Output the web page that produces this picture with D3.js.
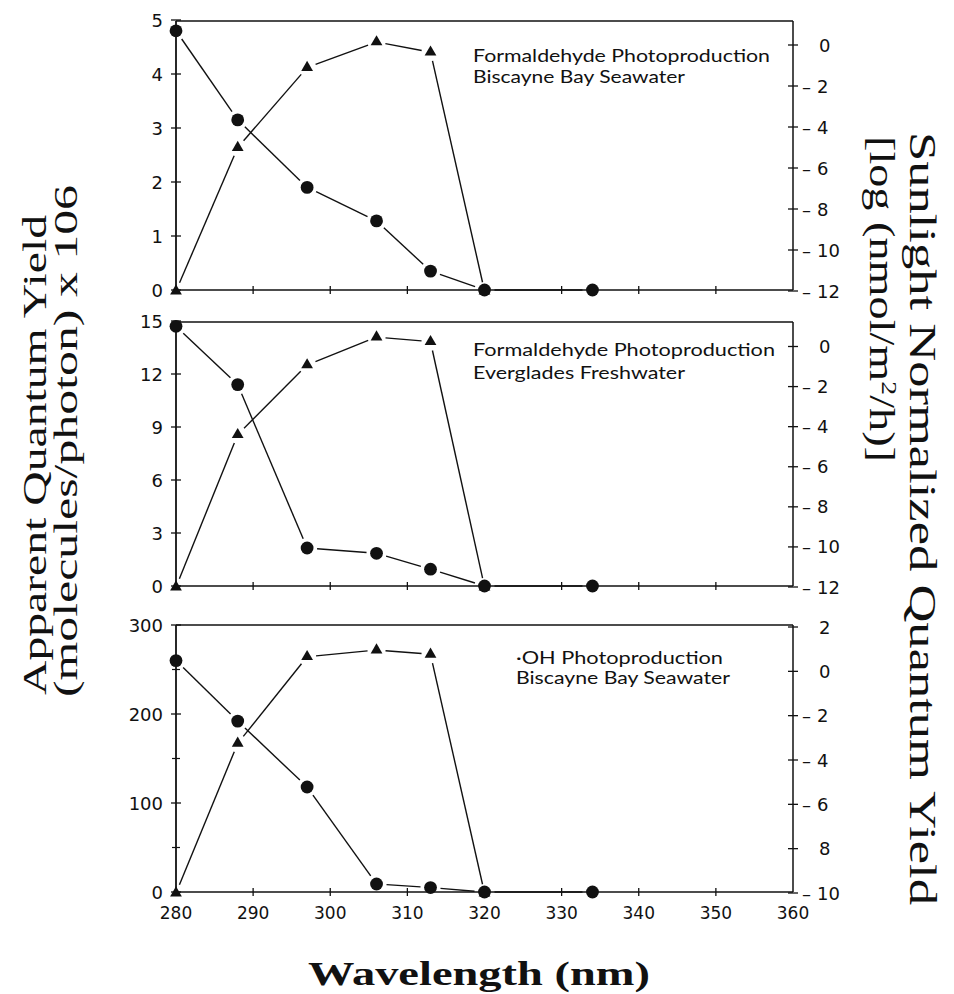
<!DOCTYPE html>
<html>
<head>
<meta charset="utf-8">
<script src="https://cdn.jsdelivr.net/npm/d3@7"></script>
<style>
  html, body { margin: 0; padding: 0; background: #fff; }
  svg { display: block; }
</style>
</head>
<body>
<svg id="chart" width="954" height="994"></svg>
<script>
// Wavelengths of the irradiation bands (nm)
const wavelengths = [280, 288, 297, 306, 313, 320, 334];

// Apparent quantum yields (circles, left axis)
const hchoBiscayneYield   = [4.8, 3.15, 1.9, 1.28, 0.35, 0, 0];
const hchoEvergladesYield = [14.7, 11.4, 2.15, 1.85, 0.95, 0, 0];
const ohBiscayneYield     = [260, 192, 118, 9, 5, 0, 0];

// Sunlight-normalized quantum yields, log scale (triangles, right axis), 280-320 nm
const hchoBiscayneSunlight   = [-12, -5.0, -1.1, 0.15, -0.35, -12];
const hchoEvergladesSunlight = [-12, -4.4, -0.92, 0.47, 0.24, -12];
const ohBiscayneSunlight     = [-10, -3.25, 0.66, 0.96, 0.77, -10];

// Tick values and labels
const xTicks = [280, 290, 300, 310, 320, 330, 340, 350, 360];
const leftTicksTop = [0, 1, 2, 3, 4, 5];
const leftTicksMid = [0, 3, 6, 9, 12, 15];
const leftTicksBot = [0, 100, 200, 300];
const leftMinorBot = [50, 150, 250];
const rightTicksTop = [0, -2, -4, -6, -8, -10, -12];
const rightTicksMid = [0, -2, -4, -6, -8, -10, -12];
const rightTicksBot = [2, 0, -2, -4, -6, -8, -10];
const rightLabelsBot = ["2", "0", "-2", "-4", "-6", "8", "-10"];

const panelTitles = [
  ["Formaldehyde Photoproduction", "Biscayne Bay Seawater"],
  ["Formaldehyde Photoproduction", "Everglades Freshwater"],
  ["\u00B7OH Photoproduction", "Biscayne Bay Seawater"]
];

const svg = d3.select("#chart");
const INK = "#111";
const tickFont = "'DejaVu Sans', sans-serif";
const noteFont = "Lato, 'Open Sans', sans-serif";
const titleFont = "'Liberation Serif', 'Times New Roman', serif";

const xLeft = 176, xRight = 793;
const x = d3.scaleLinear().domain([280, 360]).range([xLeft, xRight]);

const panels = [
  {
    top: 21, bottom: 290,
    yL: d3.scaleLinear().domain([0, 5]).range([290, 20]),
    yR: d3.scaleLinear().domain([-12, 0]).range([291, 45]),
    leftTicks: leftTicksTop, leftMinor: [],
    rightTicks: rightTicksTop, rightLabels: rightTicksTop.map(String),
    yields: hchoBiscayneYield, sun: hchoBiscayneSunlight,
    title: panelTitles[0], tx: 473, ty: 62, tw: [297, 212], dy: 21,
    xLabels: false
  },
  {
    top: 322, bottom: 586,
    yL: d3.scaleLinear().domain([0, 15]).range([586, 321]),
    yR: d3.scaleLinear().domain([-12, 0]).range([587, 346.5]),
    leftTicks: leftTicksMid, leftMinor: [],
    rightTicks: rightTicksMid, rightLabels: rightTicksMid.map(String),
    yields: hchoEvergladesYield, sun: hchoEvergladesSunlight,
    title: panelTitles[1], tx: 473, ty: 356, tw: [302, 212], dy: 23,
    xLabels: false
  },
  {
    top: 625, bottom: 892,
    yL: d3.scaleLinear().domain([0, 300]).range([892, 625]),
    yR: d3.scaleLinear().domain([-10, 2]).range([893, 627]),
    leftTicks: leftTicksBot, leftMinor: leftMinorBot,
    rightTicks: rightTicksBot, rightLabels: rightLabelsBot,
    yields: ohBiscayneYield, sun: ohBiscayneSunlight,
    title: panelTitles[2], tx: 516, ty: 664, tw: [207, 214], dy: 20,
    xLabels: true
  }
];

// Draw a connected series whose segments stop short of each marker
function gappedLine(g, pts, gap) {
  for (let i = 0; i < pts.length - 1; i++) {
    const [x0, y0] = pts[i], [x1, y1] = pts[i + 1];
    const dx = x1 - x0, dy = y1 - y0, d = Math.hypot(dx, dy);
    if (d <= 2 * gap) continue;
    const ux = dx / d, uy = dy / d;
    g.append("line")
      .attr("x1", x0 + ux * gap).attr("y1", y0 + uy * gap)
      .attr("x2", x1 - ux * gap).attr("y2", y1 - uy * gap)
      .attr("stroke", INK).attr("stroke-width", 1.4);
  }
}

panels.forEach(p => {
  const g = svg.append("g");

  // Frame
  g.append("line").attr("x1", xLeft).attr("x2", xRight).attr("y1", p.top).attr("y2", p.top)
    .attr("stroke", INK).attr("stroke-width", 1.5);
  g.append("line").attr("x1", xLeft).attr("x2", xRight).attr("y1", p.bottom).attr("y2", p.bottom)
    .attr("stroke", INK).attr("stroke-width", 1.5);
  g.append("line").attr("x1", xLeft).attr("x2", xLeft).attr("y1", p.top).attr("y2", p.bottom)
    .attr("stroke", INK).attr("stroke-width", 1.8);
  g.append("line").attr("x1", xRight).attr("x2", xRight).attr("y1", p.top).attr("y2", p.bottom)
    .attr("stroke", INK).attr("stroke-width", 1.5);

  // Bottom ticks (crossing)
  xTicks.filter(v => v > 280 && v < 360).forEach(v => {
    g.append("line").attr("x1", x(v)).attr("x2", x(v))
      .attr("y1", p.bottom - 4).attr("y2", p.bottom + 4)
      .attr("stroke", INK).attr("stroke-width", 1.3);
  });
  if (p.xLabels) {
    xTicks.forEach(v => {
      g.append("text").attr("x", x(v)).attr("y", 919)
        .attr("text-anchor", "middle")
        .attr("font-family", tickFont).attr("font-size", 17)
        .attr("fill", INK).text(v);
    });
  }

  // Left ticks and labels
  p.leftTicks.forEach(v => {
    g.append("line").attr("x1", xLeft - 5).attr("x2", xLeft + 5)
      .attr("y1", p.yL(v)).attr("y2", p.yL(v))
      .attr("stroke", INK).attr("stroke-width", 1.3);
    g.append("text").attr("x", 163).attr("y", p.yL(v) + 6.5)
      .attr("text-anchor", "end")
      .attr("font-family", tickFont).attr("font-size", 18)
      .attr("fill", INK).text(v);
  });
  p.leftMinor.forEach(v => {
    g.append("line").attr("x1", xLeft - 4).attr("x2", xLeft + 4)
      .attr("y1", p.yL(v)).attr("y2", p.yL(v))
      .attr("stroke", INK).attr("stroke-width", 1.2);
  });

  // Right ticks and labels
  p.rightTicks.forEach((v, i) => {
    const yy = p.yR(v);
    g.append("line").attr("x1", xRight - 5).attr("x2", xRight + 5)
      .attr("y1", yy).attr("y2", yy)
      .attr("stroke", INK).attr("stroke-width", 1.3);
    const lab = p.rightLabels[i];
    const t = g.append("text").attr("y", yy + 6.5)
      .attr("font-family", tickFont).attr("font-size", 18).attr("fill", INK);
    if (lab.startsWith("-")) {
      t.append("tspan").attr("x", 802).text("\u2013");
      t.append("tspan").attr("x", 817).text(lab.slice(1));
    } else {
      t.append("tspan").attr("x", 819).text(lab);
    }
  });

  // Panel annotation
  p.title.forEach((line, i) => {
    g.append("text").attr("x", p.tx).attr("y", p.ty + i * p.dy)
      .attr("font-family", noteFont).attr("font-size", 18)
      .attr("textLength", p.tw[i]).attr("lengthAdjust", "spacingAndGlyphs")
      .attr("fill", INK).text(line);
  });

  // Sunlight-normalized series (triangles)
  const sunPts = p.sun.map((v, i) => [x(wavelengths[i]), p.yR(v)]);
  gappedLine(g, sunPts, 9);
  g.selectAll(null).data(sunPts).enter().append("path")
    .attr("d", d3.symbol(d3.symbolTriangle, 60))
    .attr("transform", d => `translate(${d[0]},${d[1]})`)
    .attr("fill", INK);

  // Apparent quantum yield series (circles)
  const yPts = p.yields.map((v, i) => [x(wavelengths[i]), p.yL(v)]);
  gappedLine(g, yPts, 10);
  g.selectAll(null).data(yPts).enter().append("circle")
    .attr("cx", d => d[0]).attr("cy", d => d[1]).attr("r", 6.4)
    .attr("fill", INK);
});

// Axis titles
svg.append("text")
  .attr("transform", "translate(46,695) rotate(-90)")
  .attr("font-family", titleFont).attr("font-size", 33)
  .attr("textLength", 480).attr("lengthAdjust", "spacingAndGlyphs")
  .attr("fill", INK).text("Apparent Quantum Yield");
svg.append("text")
  .attr("transform", "translate(77,697) rotate(-90)")
  .attr("font-family", titleFont).attr("font-size", 33)
  .attr("textLength", 512).attr("lengthAdjust", "spacingAndGlyphs")
  .attr("fill", INK).text("(molecules/photon) x 106");

svg.append("text")
  .attr("transform", "translate(910,132) rotate(90)")
  .attr("font-family", titleFont).attr("font-size", 37)
  .attr("textLength", 773).attr("lengthAdjust", "spacingAndGlyphs")
  .attr("fill", INK).text("Sunlight Normalized Quantum Yield");
const rt2 = svg.append("text")
  .attr("transform", "translate(870,136) rotate(90)")
  .attr("font-family", titleFont).attr("font-size", 35)
  .attr("textLength", 326).attr("lengthAdjust", "spacingAndGlyphs")
  .attr("fill", INK);
rt2.append("tspan").text("[log (nmol/m");
rt2.append("tspan").attr("font-size", 21).attr("dy", -12).text("2");
rt2.append("tspan").attr("dy", 12).text("/h)]");

svg.append("text")
  .attr("x", 308).attr("y", 985)
  .attr("font-family", titleFont).attr("font-size", 34).attr("font-weight", "bold")
  .attr("textLength", 342).attr("lengthAdjust", "spacingAndGlyphs")
  .attr("fill", INK).text("Wavelength (nm)");
</script>
</body>
</html>
